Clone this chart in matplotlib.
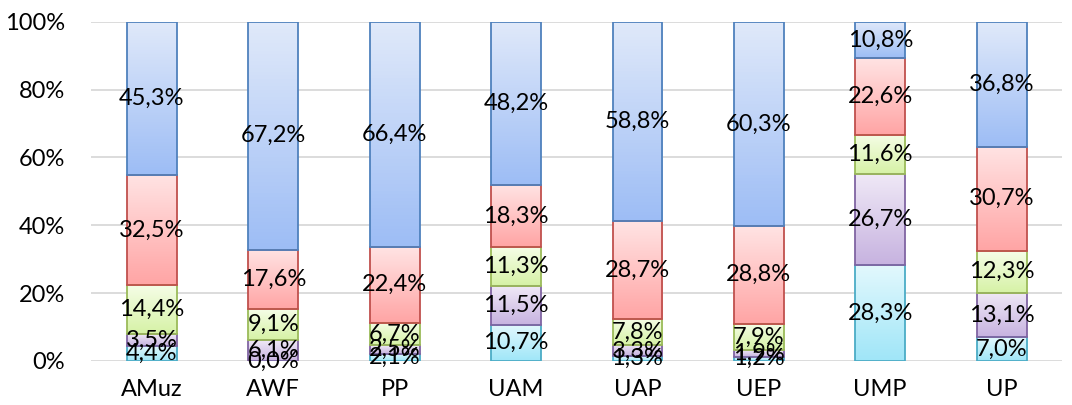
import numpy as np
import matplotlib.pyplot as plt
from matplotlib.colors import LinearSegmentedColormap

categories = ['AMuz', 'AWF', 'PP', 'UAM', 'UAP', 'UEP', 'UMP', 'UP']
cyan_vals = [4.4, 0.0, 2.1, 10.7, 1.3, 1.2, 28.3, 7.0]
purple_vals = [3.5, 6.1, 2.5, 11.5, 3.3, 1.9, 26.7, 13.1]
green_vals = [14.4, 9.1, 6.7, 11.3, 7.8, 7.9, 11.6, 12.3]
red_vals = [32.5, 17.6, 22.4, 18.3, 28.7, 28.8, 22.6, 30.7]
blue_vals = [45.3, 67.2, 66.4, 48.2, 58.8, 60.3, 10.8, 36.8]

series = [cyan_vals, purple_vals, green_vals, red_vals, blue_vals]
# (top colour, bottom colour, edge colour)
styles = [
    ('#e2f8fd', '#a0e6f8', '#4bacc6'),
    ('#efe8f6', '#c7b3e0', '#8064a2'),
    ('#f5fde6', '#d6f2a6', '#9bbb59'),
    ('#ffe3e3', '#ffa5a5', '#c0504d'),
    ('#e0e9fa', '#9dbdf5', '#4f81bd'),
]

plt.rcParams['font.family'] = ['Lato', 'DejaVu Sans']
FS = 17

fig = plt.figure(figsize=(10.72, 4.05), dpi=100)
ax = fig.add_axes([0.085, 0.109, 0.906, 0.837])

x = np.arange(len(categories))
width = 0.41
bottom = np.zeros(len(categories))

# normalise to 100%
totals = np.sum(series, axis=0)
for vals, (top_c, bot_c, edge_c) in zip(series, styles):
    vals = np.array(vals)
    frac = vals / totals * 100
    bars = ax.bar(x, frac, width, bottom=bottom, facecolor='none',
                  edgecolor=edge_c, linewidth=1.3, zorder=3)
    cmap = LinearSegmentedColormap.from_list('g', [bot_c, top_c])
    grad = np.linspace(0, 1, 64).reshape(-1, 1)
    for b in bars:
        x0, y0 = b.get_x(), b.get_y()
        w, h = b.get_width(), b.get_height()
        if h <= 0:
            continue
        ax.imshow(grad, cmap=cmap, aspect='auto', origin='lower',
                  extent=(x0, x0 + w, y0, y0 + h), zorder=2)
    for xi, b0, f, v in zip(x, bottom, frac, vals):
        ax.text(xi, b0 + f / 2, f'{v:.1f}%'.replace('.', ','),
                ha='center', va='center', fontsize=FS, color='black', zorder=4)
    bottom += frac

ax.set_xlim(-0.5, len(categories) - 0.5)
ax.set_ylim(0, 100)
ax.set_yticks(range(0, 101, 20))
ax.set_yticklabels([f'{t}%' for t in range(0, 101, 20)], fontsize=FS)
ax.set_xticks(x)
ax.set_xticklabels(categories, fontsize=FS)
ax.tick_params(axis='y', length=0, pad=19)
ax.tick_params(axis='x', length=0, pad=13)
ax.yaxis.grid(True, color='#d9d9d9', linewidth=1.3, zorder=0)
ax.set_axisbelow(True)
for s in ax.spines.values():
    s.set_visible(False)

fig.savefig('out.png', dpi=100)
